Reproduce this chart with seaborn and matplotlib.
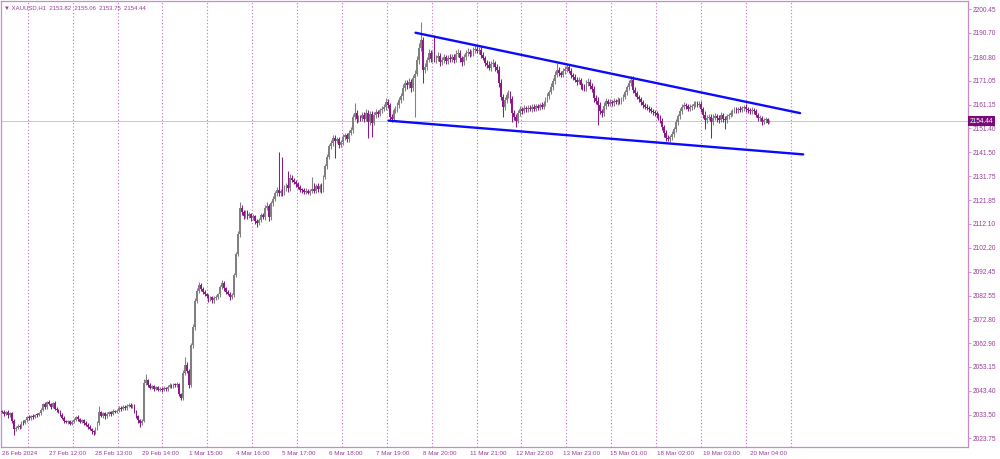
import numpy as np
import pandas as pd
import matplotlib
matplotlib.use("Agg")
import matplotlib.pyplot as plt
import seaborn as sns

# hourly closes XAUUSD H1
closes = [
    2034.5, 2033.8, 2034.6, 2033.2, 2034.0, 2031.0, 2027.5, 2028.2, 2029.0, 2028.5,
    2030.5, 2030.0, 2031.2, 2032.5, 2032.0, 2033.0, 2032.6, 2033.5, 2033.2, 2034.0,
    2035.5, 2037.8, 2036.5, 2038.6, 2038.0, 2036.8, 2038.2, 2036.0, 2035.4, 2034.8,
    2033.5, 2032.2, 2031.0, 2030.4, 2030.8, 2029.8, 2030.6, 2031.5, 2032.6, 2031.8,
    2030.6, 2031.2, 2030.0, 2029.4, 2028.6, 2027.8, 2026.6, 2026.2, 2027.5, 2030.0,
    2034.5, 2033.0, 2034.2, 2032.8, 2033.6, 2034.4, 2033.8, 2035.0, 2034.6, 2035.2,
    2036.4, 2035.8, 2036.8, 2036.2, 2037.0, 2037.6, 2036.8, 2037.4, 2035.0, 2033.0,
    2031.2, 2030.0, 2031.0, 2046.5, 2047.6, 2045.8, 2044.6, 2045.2, 2044.0, 2044.8,
    2043.8, 2044.2, 2043.6, 2044.6, 2043.9, 2045.0, 2045.8, 2045.2, 2046.0, 2045.6,
    2046.2, 2042.0, 2040.4, 2050.5, 2053.8, 2051.5, 2045.8, 2062.0, 2069.5, 2080.2,
    2084.5, 2086.8, 2085.2, 2084.0, 2083.2, 2082.4, 2081.0, 2081.8, 2080.6, 2081.4,
    2082.0, 2083.0, 2086.0, 2087.8, 2085.6, 2084.2, 2083.4, 2082.0, 2082.8, 2091.0,
    2099.5, 2108.0, 2118.5, 2117.0, 2115.4, 2116.8, 2115.2, 2116.0, 2114.6, 2115.3,
    2113.2, 2112.6, 2113.8, 2115.6, 2115.0, 2118.8, 2119.5, 2114.8, 2120.5, 2122.5,
    2124.8, 2126.0, 2124.6, 2125.6, 2124.8, 2127.0, 2128.0, 2126.8, 2131.0, 2130.2,
    2129.4, 2128.6, 2127.4, 2126.2, 2126.0, 2125.4, 2125.8, 2125.0, 2125.6, 2126.4,
    2125.6, 2127.6, 2126.4, 2127.8, 2126.4, 2131.5, 2135.8, 2139.8, 2144.0, 2145.4,
    2147.6, 2146.4, 2147.0, 2144.6, 2145.8, 2147.8, 2148.6, 2147.2, 2149.6, 2150.7,
    2156.0, 2157.8, 2155.2, 2156.0, 2155.6, 2157.0, 2155.4, 2157.8, 2154.2, 2157.4,
    2153.8, 2156.8, 2158.0, 2157.4, 2158.8, 2159.4, 2160.2, 2162.4, 2161.0, 2156.2,
    2155.4, 2158.8, 2159.4, 2161.0, 2163.0, 2164.6, 2168.0, 2170.2, 2169.2, 2170.4,
    2168.0, 2172.2, 2174.0, 2179.5, 2184.4, 2187.8, 2175.6, 2176.8, 2179.6, 2182.4,
    2180.0, 2181.5, 2179.6, 2180.4, 2181.4, 2178.6, 2179.4, 2180.8, 2179.2, 2180.6,
    2179.8, 2181.0, 2179.6, 2182.0, 2182.6, 2180.2, 2178.6, 2180.8, 2182.4, 2183.0,
    2182.2, 2182.8, 2183.6, 2184.2, 2183.4, 2183.8, 2181.6, 2180.4, 2178.4, 2177.6,
    2176.4, 2177.8, 2178.2, 2176.6, 2175.6, 2170.0, 2164.4, 2160.2, 2163.0, 2165.2,
    2166.0, 2163.4, 2157.8, 2156.2, 2154.6, 2157.8, 2159.2, 2158.6, 2159.8, 2159.2,
    2160.0, 2159.4, 2160.4, 2159.6, 2160.6, 2160.0, 2161.0, 2160.4, 2161.6, 2163.2,
    2164.8, 2166.4, 2168.6, 2170.8, 2173.6, 2175.6, 2174.2, 2173.6, 2175.0, 2176.0,
    2176.8, 2175.2, 2173.4, 2172.6, 2171.4, 2170.6, 2171.2, 2169.2, 2168.4, 2168.0,
    2170.0, 2170.6, 2169.0, 2167.6, 2164.0, 2162.8, 2161.0, 2158.4, 2157.6, 2160.8,
    2162.6, 2161.6, 2162.4, 2161.8, 2162.6, 2162.2, 2163.0, 2162.6, 2163.4, 2164.4,
    2166.2, 2168.4, 2170.0, 2171.4, 2167.2, 2166.0, 2164.4, 2163.4, 2162.2, 2161.0,
    2160.4, 2160.0, 2159.2, 2158.6, 2158.0, 2157.6, 2157.0, 2155.8, 2154.6, 2152.0,
    2149.4, 2147.6, 2147.2, 2147.8, 2149.0, 2151.0, 2154.0, 2156.4, 2158.6, 2160.2,
    2161.0, 2160.6, 2159.6, 2160.2, 2160.6, 2161.4, 2161.8, 2161.2, 2161.6, 2159.2,
    2157.0, 2154.8, 2155.8, 2156.2, 2154.2, 2155.8, 2156.4, 2155.6, 2155.0, 2156.8,
    2155.2, 2154.8, 2156.4, 2157.0, 2157.8, 2158.6, 2159.2, 2158.8, 2159.4, 2159.0,
    2159.8, 2160.4, 2159.2, 2158.8, 2158.4, 2159.0, 2158.6, 2156.8, 2155.6, 2155.8,
    2154.2, 2154.8, 2155.2, 2153.82, 2154.44,
]
first_open = 2035.0

# wick length above / below the body (dollars)
wick_hi = [
    0.6, 0.8, 0.4, 0.9, 0.5, 0.7, 0.6, 0.5, 0.8, 0.6, 0.4, 0.7, 0.5, 0.6, 0.9, 0.5, 0.6, 0.4, 0.7, 0.5,
    0.8, 0.6, 1.0, 0.7, 0.9, 0.5, 0.6, 0.8, 0.5, 0.4, 0.6, 0.5, 0.7, 0.4, 0.6, 0.5, 0.8, 0.6, 0.5, 0.7,
    0.5, 0.6, 0.4, 0.7, 0.5, 0.6, 0.4, 0.5, 0.8, 0.9, 2.5, 0.7, 0.6, 0.5, 0.8, 0.6, 0.5, 0.7, 0.6, 0.5,
    0.7, 0.6, 0.8, 0.5, 0.9, 0.6, 0.7, 0.5, 0.6, 0.4, 0.5, 0.6, 0.7, 1.5, 2.6, 0.8, 0.6, 0.7, 0.5, 0.6,
    0.5, 0.7, 0.6, 0.8, 0.5, 0.6, 0.9, 0.5, 0.7, 0.6, 0.8, 0.5, 0.6, 1.2, 3.6, 1.5, 0.8, 1.0, 1.2, 1.5,
    1.0, 1.3, 0.8, 0.7, 0.9, 0.6, 0.8, 0.7, 0.5, 0.9, 0.7, 0.8, 1.0, 1.2, 0.9, 0.6, 0.7, 0.5, 0.8, 1.0,
    1.2, 1.0, 2.5, 1.4, 1.0, 1.2, 0.8, 0.9, 0.7, 0.8, 0.6, 0.7, 0.9, 0.8, 1.0, 1.2, 1.4, 0.9, 1.0, 1.2,
    1.0, 1.2, 15.5, 0.9, 14.0, 1.2, 1.0, 6.0, 1.5, 1.2, 0.8, 0.9, 0.7, 0.8, 0.6, 0.7, 0.9, 0.6, 0.8, 5.0,
    2.4, 1.0, 1.2, 0.8, 1.0, 0.9, 1.0, 1.2, 1.0, 1.4, 1.2, 1.0, 0.9, 0.8, 1.0, 1.2, 0.9, 1.0, 1.1, 1.2,
    1.4, 4.2, 1.2, 1.0, 1.1, 1.2, 1.0, 1.4, 1.0, 1.2, 1.0, 1.2, 1.4, 1.0, 1.2, 1.4, 1.2, 1.6, 1.2, 1.0,
    1.0, 1.2, 1.1, 1.4, 1.2, 1.4, 1.5, 1.2, 1.0, 1.6, 1.2, 1.4, 1.6, 1.8, 2.0, 7.5, 1.4, 1.6, 1.2, 1.8,
    1.4, 1.6, 8.5, 1.2, 1.4, 1.2, 1.6, 1.4, 1.0, 1.2, 1.4, 1.2, 1.0, 1.6, 1.4, 1.2, 1.0, 1.4, 1.2, 1.6,
    1.2, 1.0, 1.4, 1.6, 1.2, 1.0, 1.4, 1.2, 1.0, 1.2, 1.4, 1.2, 1.6, 1.0, 1.2, 1.4, 1.6, 1.2, 1.4, 1.0,
    1.2, 1.0, 1.4, 1.2, 1.0, 1.2, 1.4, 1.0, 1.2, 0.9, 1.0, 1.2, 0.9, 1.1, 1.0, 0.8, 1.0, 1.2, 0.9, 1.0,
    1.2, 1.0, 1.4, 1.2, 1.6, 2.8, 1.2, 1.0, 1.4, 1.2, 1.0, 1.2, 0.9, 1.0, 1.2, 1.0, 1.4, 0.9, 1.0, 1.2,
    1.2, 1.4, 1.0, 0.9, 1.2, 1.0, 1.4, 1.2, 1.0, 1.4, 1.2, 1.0, 1.1, 0.9, 1.2, 1.0, 1.2, 0.9, 1.1, 1.0,
    1.2, 1.0, 1.2, 1.4, 1.6, 1.2, 1.0, 0.9, 1.1, 1.0, 0.9, 1.0, 0.8, 1.0, 0.9, 1.0, 0.8, 0.9, 1.0, 1.2,
    1.0, 1.2, 0.9, 1.0, 1.2, 1.0, 1.2, 1.0, 1.2, 1.4, 1.2, 1.0, 0.9, 1.1, 1.0, 1.2, 1.0, 0.9, 1.1, 1.0,
    1.2, 1.4, 1.0, 1.2, 1.0, 1.4, 1.2, 1.0, 1.4, 1.2, 1.0, 1.2, 1.0, 0.9, 1.1, 1.0, 1.2, 0.9, 1.0, 1.1,
    1.0, 0.8, 1.2, 1.0, 0.9, 1.1, 1.0, 0.8, 0.9, 1.0, 0.8, 0.9, 1.0, 0.6, 0.62,
]
wick_lo = [
    0.5, 0.7, 0.6, 0.9, 0.5, 0.8, 2.4, 0.6, 0.7, 0.9, 0.5, 0.6, 0.4, 0.7, 0.5, 0.6, 0.8, 0.5, 0.6, 0.4,
    0.6, 0.5, 0.8, 0.6, 0.7, 0.9, 0.5, 0.7, 0.6, 0.5, 0.7, 0.6, 0.8, 0.5, 0.6, 0.7, 0.5, 0.6, 0.4, 0.7,
    0.6, 0.5, 0.7, 0.6, 0.8, 0.6, 0.9, 1.0, 0.7, 0.5, 0.8, 0.6, 0.7, 0.9, 0.5, 0.6, 0.7, 0.5, 0.6, 0.4,
    0.6, 0.7, 0.5, 0.8, 0.6, 0.5, 0.7, 0.6, 0.8, 1.0, 1.2, 1.4, 0.8, 0.6, 0.9, 0.8, 0.7, 0.6, 0.8, 0.5,
    0.7, 0.6, 0.8, 0.5, 0.7, 0.6, 0.5, 0.8, 0.6, 0.7, 0.6, 0.8, 0.9, 0.7, 0.8, 1.0, 1.2, 0.8, 0.9, 1.0,
    0.8, 1.0, 0.9, 0.8, 1.0, 0.9, 1.2, 0.8, 1.0, 0.9, 0.8, 1.0, 0.9, 0.8, 1.0, 0.9, 0.8, 1.2, 1.0, 0.9,
    1.0, 0.8, 1.2, 1.4, 1.2, 1.0, 1.2, 0.9, 1.4, 1.0, 1.2, 1.6, 1.0, 0.9, 1.0, 1.2, 1.0, 1.4, 1.0, 0.9,
    1.0, 1.2, 1.0, 0.9, 1.4, 1.0, 1.2, 1.4, 1.0, 0.9, 1.0, 1.2, 1.0, 0.8, 1.0, 0.9, 1.0, 0.8, 1.0, 0.9,
    1.0, 0.9, 1.2, 1.0, 1.4, 1.0, 0.8, 1.0, 1.2, 1.0, 1.4, 7.0, 1.2, 1.4, 1.0, 1.2, 1.0, 1.4, 1.2, 1.0,
    1.2, 1.0, 1.4, 1.2, 1.0, 1.2, 1.4, 1.0, 6.8, 1.2, 5.8, 1.0, 1.2, 1.4, 1.0, 1.2, 1.0, 1.4, 1.2, 1.8,
    1.2, 1.0, 1.2, 1.4, 1.0, 1.2, 1.4, 1.0, 1.6, 1.2, 1.4, 1.2, 16.0, 1.2, 1.4, 1.2, 5.6, 1.4, 1.2, 1.0,
    1.2, 1.4, 1.0, 1.2, 1.4, 1.6, 1.2, 1.0, 1.4, 1.2, 1.0, 1.2, 1.4, 1.0, 1.2, 1.4, 1.6, 1.0, 1.2, 1.0,
    1.2, 1.0, 1.4, 1.2, 1.0, 1.2, 1.4, 1.0, 1.2, 1.4, 1.0, 1.2, 1.0, 1.4, 1.2, 1.6, 1.4, 4.2, 1.2, 1.0,
    1.2, 1.4, 3.8, 1.2, 2.6, 1.0, 1.2, 1.4, 1.0, 1.2, 1.0, 0.9, 1.2, 1.0, 1.1, 1.0, 0.9, 1.2, 1.0, 1.1,
    1.0, 1.2, 1.0, 1.4, 1.2, 1.0, 1.4, 1.2, 1.0, 1.2, 1.4, 1.0, 1.2, 1.4, 1.0, 1.2, 1.0, 1.4, 1.2, 1.0,
    1.2, 1.0, 1.4, 1.2, 1.6, 1.4, 8.3, 1.2, 1.4, 1.0, 1.2, 1.0, 1.1, 1.2, 1.0, 0.9, 1.2, 1.0, 1.1, 0.9,
    1.0, 1.2, 1.0, 1.1, 1.2, 1.4, 1.0, 1.2, 1.0, 1.1, 1.0, 0.9, 1.2, 1.0, 1.1, 1.0, 1.2, 1.0, 1.1, 1.4,
    1.6, 1.2, 1.0, 1.2, 1.0, 1.2, 1.0, 1.1, 1.0, 1.2, 1.0, 1.1, 1.2, 1.0, 1.1, 1.0, 1.2, 1.0, 1.1, 1.2,
    1.4, 3.8, 1.2, 1.0, 6.8, 1.2, 1.0, 1.4, 1.2, 1.0, 1.2, 3.8, 1.0, 1.2, 1.0, 1.1, 1.0, 1.2, 0.9, 1.0,
    1.0, 1.2, 0.9, 1.0, 1.1, 1.0, 1.2, 0.9, 1.0, 1.1, 1.2, 0.9, 1.0, 0.8, 0.07,
]
assert len(closes) == len(wick_hi) == len(wick_lo), (len(closes), len(wick_hi), len(wick_lo))

# x axis labels every 24 bars
date_labels = ["26 Feb 2024", "27 Feb 12:00", "28 Feb 13:00", "29 Feb 14:00", "1 Mar 15:00",
               "4 Mar 16:00", "5 Mar 17:00", "6 Mar 18:00", "7 Mar 19:00", "8 Mar 20:00",
               "11 Mar 21:00", "12 Mar 22:00", "13 Mar 23:00", "15 Mar 01:00", "18 Mar 02:00",
               "19 Mar 03:00", "20 Mar 04:00"]
price_ticks = [2200.45, 2190.70, 2180.80, 2171.05, 2161.15, 2151.40, 2141.50, 2131.75,
               2121.85, 2112.10, 2102.20, 2092.45, 2082.55, 2072.80, 2062.90, 2053.15,
               2043.40, 2033.50, 2023.75]

# triangle trend lines (bar index, price)
line_names = ["upper", "upper", "lower", "lower"]
line_bars = [212.3, 409.7, 198.5, 411.3]
line_prices = [2190.8, 2157.7, 2154.6, 2140.7]

last_ohlc = "2153.82  2155.06  2153.75  2154.44"

# ---------------------------------------------------------------
df = pd.DataFrame({"close": closes, "wick_hi": wick_hi, "wick_lo": wick_lo})
df["bar"] = np.arange(len(df))
df["open"] = df["close"].shift(1).fillna(first_open)
df["top"] = df[["open", "close"]].max(axis=1)
df["bot"] = df[["open", "close"]].min(axis=1)
df["high"] = df["top"] + df["wick_hi"]
df["low"] = df["bot"] - df["wick_lo"]
bull = df["close"] >= df["open"]

sns.set_style("white")
plt.rcParams["font.family"] = ["Liberation Sans", "DejaVu Sans"]

purple = "#9a3a9a"
frame = "#c98ac9"
bull_c = "#808080"
bear_c = "#8c1a8a"
fs = 4.7

fig = plt.figure(figsize=(10, 4.59), dpi=100)
ax = fig.add_axes([0.001, 0.0261, 0.967, 0.9717])

# dotted vertical grid
for gx in np.arange(13.3, 410, 23.03):
    ax.axvline(gx, color="#cc6acc", lw=0.8, ls=(0, (1, 2)), zorder=0)

# current price line
ax.axhline(closes[-1], color="#c8c8c8", lw=0.7, zorder=0.5)

colors = np.where(bull, bull_c, bear_c)
ax.vlines(df["bar"], df["low"], df["high"], colors=colors, lw=0.75, zorder=2)
ax.bar(df["bar"], np.maximum(df["top"] - df["bot"], 0.4), bottom=df["bot"],
       width=0.9, color=colors, linewidth=0, zorder=3)

lines = pd.DataFrame({"line": line_names, "bar": line_bars, "price": line_prices})
sns.lineplot(data=lines, x="bar", y="price", units="line", estimator=None,
             color="#0a0aff", lw=1.7, ax=ax, zorder=4)

ax.set_xlim(-0.5, 495.9)
ax.set_ylim(2020.18, 2203.87)

ax.set_xticks(np.arange(0, 24 * len(date_labels), 24))
ax.set_xticklabels(date_labels, ha="left")
ax.yaxis.tick_right()
ax.set_yticks(price_ticks)
ax.set_yticklabels([f"{v:.2f}" for v in price_ticks])
ax.tick_params(axis="both", colors=frame, labelcolor=purple, labelsize=fs,
               length=2, width=0.6, pad=1.5, direction="out")
ax.tick_params(axis="x", pad=1.0, labelsize=4.5)
ax.set_xlabel("")
ax.set_ylabel("")
for s in ax.spines.values():
    s.set_color(frame)
    s.set_linewidth(0.9)

# price tag on the right axis
ax.text(1.002, closes[-1], f"{closes[-1]:.2f}", transform=ax.get_yaxis_transform(),
        ha="left", va="center", fontsize=fs, color="white", zorder=10, clip_on=False,
        bbox=dict(boxstyle="square,pad=0.25", fc="#7a0a7a", ec="none"))

fig.text(0.004, 0.984, "\u25BC XAUUSD,H1  " + last_ohlc, color=purple, fontsize=4.3,
         ha="left", va="center")

fig.savefig("out.png", dpi=100)
